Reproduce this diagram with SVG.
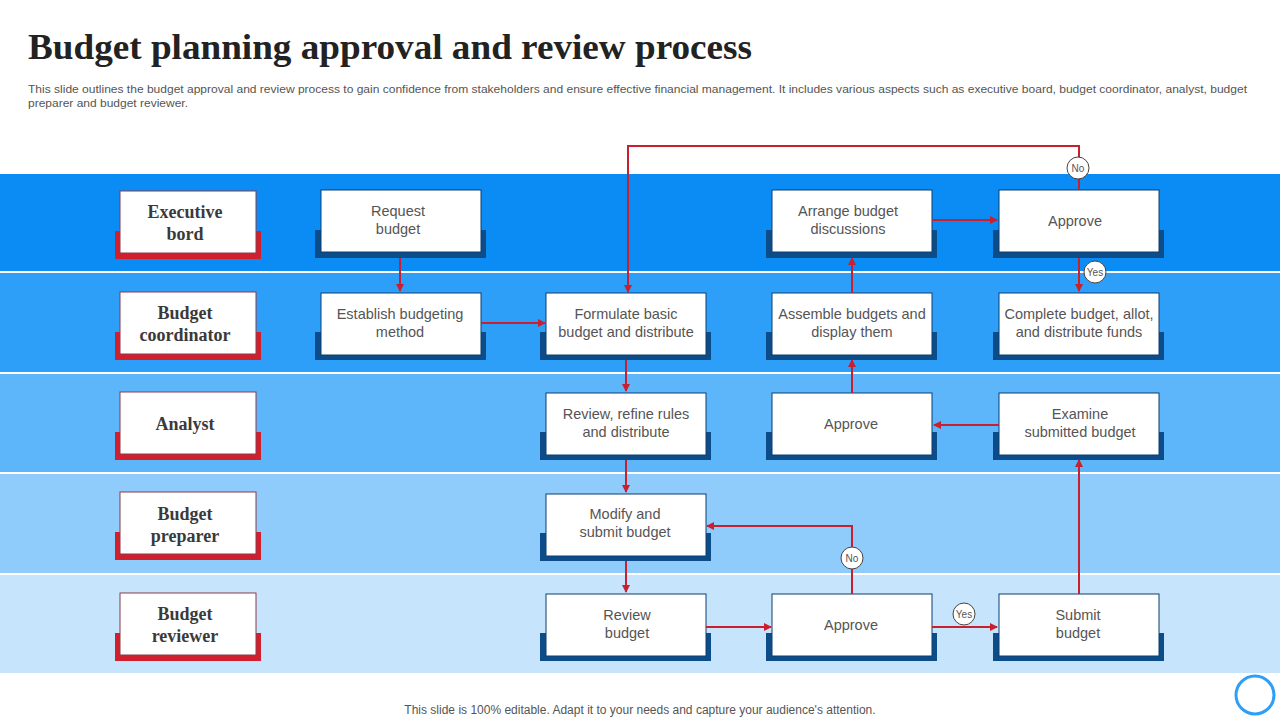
<svg xmlns="http://www.w3.org/2000/svg" width="1280" height="720" viewBox="0 0 1280 720">
<defs>
<style>
.lbl{fill:#fff;stroke:#8a3a4a;stroke-width:1}
.lsh{fill:#D0202E}
.nd{fill:#fff;stroke:#0B3F73;stroke-width:1}
.sh{fill:#0B4C89}
.lt{font-family:"Liberation Serif",serif;font-weight:bold;font-size:18px;fill:#3a3a3a;text-anchor:middle}
.nt{font-family:"Liberation Sans",Arial,sans-serif;font-size:14.5px;fill:#555;text-anchor:middle}
.cn{fill:none;stroke:#C8202F;stroke-width:2}
.ci{fill:#fff;stroke:#444;stroke-width:1}
.ct{font-family:"Liberation Sans",Arial,sans-serif;font-size:10px;fill:#555;text-anchor:middle}
</style>
<marker id="ah" markerWidth="8" markerHeight="8" refX="7" refY="4" orient="auto" markerUnits="userSpaceOnUse"><path d="M0,0 L8,4 L0,8 z" fill="#C8202F"/></marker>
</defs>
<rect width="1280" height="720" fill="#fff"/>
<text x="28" y="59" font-family="Liberation Serif,serif" font-weight="bold" font-size="36" fill="#222" textLength="724" lengthAdjust="spacingAndGlyphs">Budget planning approval and review process</text>
<text font-family="Liberation Sans,Arial,sans-serif" font-size="11" fill="#555"><tspan x="28" y="93" textLength="1219" lengthAdjust="spacingAndGlyphs">This slide outlines the budget approval and review process to gain confidence from stakeholders and ensure effective financial management. It includes various aspects such as executive board, budget coordinator, analyst, budget</tspan><tspan x="28" y="107" textLength="160" lengthAdjust="spacingAndGlyphs">preparer and budget reviewer.</tspan></text>
<g id="lanes">
<rect x="0" y="174" width="1280" height="97" fill="#0A8CF4"/>
<rect x="0" y="273" width="1280" height="99" fill="#2E9FF8"/>
<rect x="0" y="374" width="1280" height="98" fill="#5DB5FA"/>
<rect x="0" y="474" width="1280" height="99" fill="#8FCBFB"/>
<rect x="0" y="575" width="1280" height="98" fill="#C6E5FD"/>
</g>
<g id="lane-executive"><rect class="lsh" x="115" y="231" width="146" height="28"/><rect class="lbl" x="120" y="191" width="136" height="62"/><text class="lt" x="185" y="218">Executive</text><text class="lt" x="185" y="240">bord</text></g>
<g id="lane-coordinator"><rect class="lsh" x="115" y="332" width="146" height="28"/><rect class="lbl" x="120" y="292" width="136" height="62"/><text class="lt" x="185" y="319">Budget</text><text class="lt" x="185" y="341">coordinator</text></g>
<g id="lane-analyst"><rect class="lsh" x="115" y="432" width="146" height="28"/><rect class="lbl" x="120" y="392" width="136" height="62"/><text class="lt" x="185" y="430">Analyst</text></g>
<g id="lane-preparer"><rect class="lsh" x="115" y="532" width="146" height="28"/><rect class="lbl" x="120" y="492" width="136" height="62"/><text class="lt" x="185" y="520">Budget</text><text class="lt" x="185" y="542">preparer</text></g>
<g id="lane-reviewer"><rect class="lsh" x="115" y="633" width="146" height="28"/><rect class="lbl" x="120" y="593" width="136" height="62"/><text class="lt" x="185" y="620">Budget</text><text class="lt" x="185" y="642">reviewer</text></g>

<g id="n-request"><rect class="sh" x="315" y="230" width="171" height="28"/><rect class="nd" x="321" y="190" width="160" height="62"/><text class="nt" x="398" y="216">Request</text><text class="nt" x="398" y="234">budget</text></g>
<g id="n-arrange"><rect class="sh" x="766" y="230" width="171" height="28"/><rect class="nd" x="772" y="190" width="160" height="62"/><text class="nt" x="848" y="216">Arrange budget</text><text class="nt" x="848" y="234">discussions</text></g>
<g id="n-approve1"><rect class="sh" x="993" y="230" width="171" height="28"/><rect class="nd" x="999" y="190" width="160" height="62"/><text class="nt" x="1075" y="226">Approve</text></g>
<g id="n-establish"><rect class="sh" x="315" y="332" width="171" height="28"/><rect class="nd" x="321" y="293" width="160" height="62"/><text class="nt" x="400" y="319">Establish budgeting</text><text class="nt" x="400" y="337">method</text></g>
<g id="n-formulate"><rect class="sh" x="540" y="332" width="171" height="28"/><rect class="nd" x="546" y="293" width="160" height="62"/><text class="nt" x="626" y="319">Formulate basic</text><text class="nt" x="626" y="337">budget and distribute</text></g>
<g id="n-assemble"><rect class="sh" x="766" y="332" width="171" height="28"/><rect class="nd" x="772" y="293" width="160" height="62"/><text class="nt" x="852" y="319">Assemble budgets and</text><text class="nt" x="852" y="337">display them</text></g>
<g id="n-complete"><rect class="sh" x="993" y="332" width="171" height="28"/><rect class="nd" x="999" y="293" width="160" height="62"/><text class="nt" x="1079" y="319">Complete budget, allot,</text><text class="nt" x="1079" y="337">and distribute funds</text></g>
<g id="n-refine"><rect class="sh" x="540" y="432" width="171" height="28"/><rect class="nd" x="546" y="393" width="160" height="62"/><text class="nt" x="626" y="419">Review, refine rules</text><text class="nt" x="626" y="437">and distribute</text></g>
<g id="n-approve2"><rect class="sh" x="766" y="432" width="171" height="28"/><rect class="nd" x="772" y="393" width="160" height="62"/><text class="nt" x="851" y="429">Approve</text></g>
<g id="n-examine"><rect class="sh" x="993" y="432" width="171" height="28"/><rect class="nd" x="999" y="393" width="160" height="62"/><text class="nt" x="1080" y="419">Examine</text><text class="nt" x="1080" y="437">submitted budget</text></g>
<g id="n-modify"><rect class="sh" x="540" y="533" width="171" height="28"/><rect class="nd" x="546" y="494" width="160" height="62"/><text class="nt" x="625" y="519">Modify and</text><text class="nt" x="625" y="537">submit budget</text></g>
<g id="n-review"><rect class="sh" x="540" y="633" width="171" height="28"/><rect class="nd" x="546" y="594" width="160" height="62"/><text class="nt" x="627" y="620">Review</text><text class="nt" x="627" y="638">budget</text></g>
<g id="n-approve3"><rect class="sh" x="766" y="633" width="171" height="28"/><rect class="nd" x="772" y="594" width="160" height="62"/><text class="nt" x="851" y="630">Approve</text></g>
<g id="n-submit"><rect class="sh" x="993" y="633" width="171" height="28"/><rect class="nd" x="999" y="594" width="160" height="62"/><text class="nt" x="1078" y="620">Submit</text><text class="nt" x="1078" y="638">budget</text></g>

<g id="connectors">
<path class="cn" marker-end="url(#ah)" d="M400,258 V291"/>
<path class="cn" marker-end="url(#ah)" d="M481,323 H545"/>
<path class="cn" marker-end="url(#ah)" d="M1079,190 V146 H628 V292"/>
<path class="cn" marker-end="url(#ah)" d="M1079,258 V291"/>
<path class="cn" marker-end="url(#ah)" d="M932,220 H997"/>
<path class="cn" marker-end="url(#ah)" d="M852,293 V258"/>
<path class="cn" marker-end="url(#ah)" d="M626,360 V391"/>
<path class="cn" marker-end="url(#ah)" d="M852,393 V360"/>
<path class="cn" marker-end="url(#ah)" d="M999,425 H934"/>
<path class="cn" marker-end="url(#ah)" d="M626,460 V492"/>
<path class="cn" marker-end="url(#ah)" d="M626,561 V592"/>
<path class="cn" marker-end="url(#ah)" d="M706,627 H771"/>
<path class="cn" marker-end="url(#ah)" d="M852,594 V526 H707"/>
<path class="cn" marker-end="url(#ah)" d="M932,627 H997"/>
<path class="cn" marker-end="url(#ah)" d="M1079,594 V460"/>
<circle class="ci" cx="1078" cy="168" r="11"/><text class="ct" x="1078" y="172">No</text>
<circle class="ci" cx="1095" cy="272" r="11"/><text class="ct" x="1095" y="276">Yes</text>
<circle class="ci" cx="852" cy="558" r="11"/><text class="ct" x="852" y="562">No</text>
<circle class="ci" cx="964" cy="614" r="11"/><text class="ct" x="964" y="618">Yes</text>
</g>
<text x="640" y="714" text-anchor="middle" font-family="Liberation Sans,Arial,sans-serif" font-size="12" fill="#555">This slide is 100% editable. Adapt it to your needs and capture your audience's attention.</text>
<circle cx="1255" cy="695" r="19" fill="#fff" stroke="#2E9FF8" stroke-width="3"/>
</svg>
